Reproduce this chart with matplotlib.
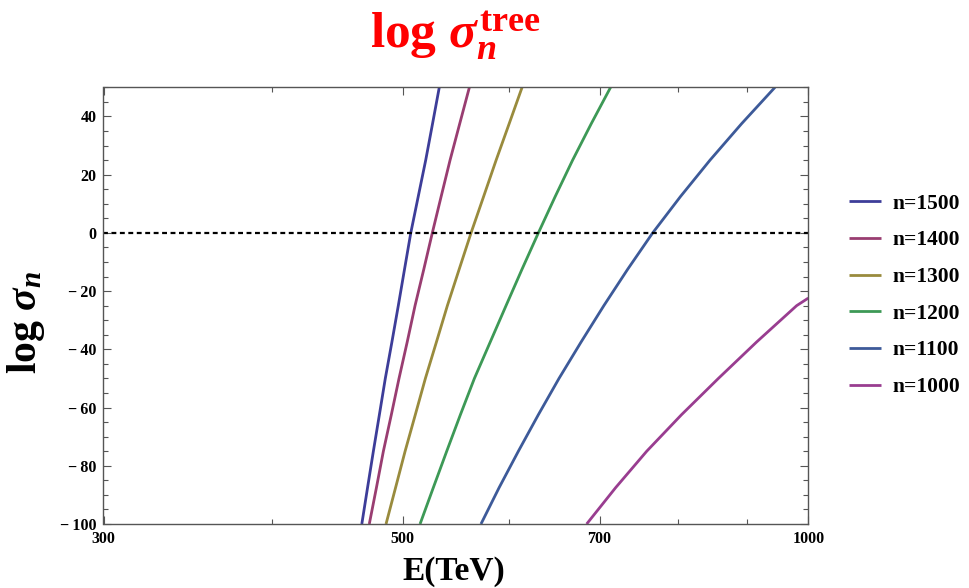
import matplotlib
matplotlib.use("Agg")
import matplotlib.pyplot as plt
from matplotlib.ticker import FixedLocator, FixedFormatter, MultipleLocator

plt.rcParams.update({
    'font.family': ['Liberation Serif', 'DejaVu Serif'],
    'font.weight': 'bold',
    'mathtext.fontset': 'custom',
    'mathtext.rm': 'Liberation Serif:bold',
    'mathtext.it': 'Liberation Serif:italic:bold',
    'mathtext.bf': 'Liberation Serif:bold',
})

# ---- data (E in TeV at given log sigma_n levels) ----
labels = ['n=1500', 'n=1400', 'n=1300', 'n=1200', 'n=1100', 'n=1000']
levels = [-100, -87.5, -75, -62.5, -50, -37.5, -25, -12.5, 0, 12.5, 25, 37.5, 50]
E_1500 = [466.4, 471.0, 475.7, 480.6, 485.5, 491.0, 496.4, 501.7, 507.1, 513.6, 520.2, 526.3, 532.4]
E_1400 = [472.4, 478.2, 483.9, 490.5, 497.0, 504.0, 510.8, 518.5, 526.1, 534.1, 542.3, 551.3, 560.5]
E_1300 = [486.1, 494.1, 502.2, 511.0, 519.9, 529.8, 539.8, 550.8, 562.1, 574.3, 586.7, 599.9, 613.3]
E_1200 = [515.2, 527.0, 539.2, 551.9, 565.3, 580.8, 596.7, 613.2, 630.6, 649.0, 668.6, 690.2, 713.4]
E_1100 = [571.7, 589.7, 609.4, 630.5, 653.2, 678.3, 705.2, 734.5, 766.6, 803.9, 845.5, 892.3, 944.7]
levels_1000 = [-100, -87.5, -75, -62.5, -50, -37.5, -25, -22.4]
E_1000 = [684.8, 719.6, 758.8, 805.1, 857.6, 915.4, 980.3, 1000.0]

series = [
    (E_1500, levels), (E_1400, levels), (E_1300, levels),
    (E_1200, levels), (E_1100, levels), (E_1000, levels_1000),
]
colors = ['#3d3d99', '#993d71', '#998b3d', '#3d9956', '#3d5a99', '#993d90']

x_major = [300, 500, 700, 1000]
x_major_labels = ['300', '500', '700', '1000']
x_minor = [400, 600, 800, 900]
y_major = [-100, -80, -60, -40, -20, 0, 20, 40]
y_major_labels = ['\u2212\u2009100', '\u2212\u200980', '\u2212\u200960', '\u2212\u200940',
                  '\u2212\u200920', '0', '20', '40']

fig = plt.figure(figsize=(9.7, 5.88), dpi=100)
L, R, T, B = 103.5, 808.3, 87.3, 524.0
ax = fig.add_axes([L/970, 1-B/588, (R-L)/970, (B-T)/588])

for (ex, ey), c, lab in zip(series, colors, labels):
    ax.plot(ex, ey, color=c, lw=2.0, label=lab, solid_capstyle='butt')

ax.axhline(0, color='black', lw=1.6, ls=(0, (2.2, 1.6)))

ax.set_xscale('log')
ax.set_xlim(300, 1000)
ax.set_ylim(-100, 50)

ax.xaxis.set_major_locator(FixedLocator(x_major))
ax.xaxis.set_major_formatter(FixedFormatter(x_major_labels))
ax.xaxis.set_minor_locator(FixedLocator(x_minor))
ax.xaxis.set_minor_formatter(FixedFormatter([''] * len(x_minor)))
ax.yaxis.set_major_locator(FixedLocator(y_major))
ax.yaxis.set_major_formatter(FixedFormatter(y_major_labels))
ax.yaxis.set_minor_locator(MultipleLocator(5))

for sp in ax.spines.values():
    sp.set_color('#555555')
    sp.set_linewidth(1.0)

ax.tick_params(which='both', direction='in', top=True, right=True,
               color='#555555', labelsize=11.5, width=0.8)
ax.tick_params(which='major', length=6, pad=5)
ax.tick_params(which='minor', length=3.5)
for t in ax.get_xticklabels() + ax.get_yticklabels():
    t.set_fontweight('bold')

fig.text(454/970, 1-580/588, 'E(TeV)', fontsize=24, fontweight='bold',
         ha='center', va='baseline')
fig.text(26/970, 1-322/588, r'$\mathrm{log}\ \sigma_n$', fontsize=30,
         rotation=90, ha='center', va='center')

fig.text(455/970, 1-48/588, r'$\mathrm{log}\ \sigma_n^{\mathrm{tree}}$',
         color='#ff0000', fontsize=37, ha='center', va='baseline')

fig.legend(loc='upper left', bbox_to_anchor=(838/970, 1-183/588),
           frameon=False, handlelength=1.5, handletextpad=0.55,
           labelspacing=0.77, borderpad=0, prop={'weight': 'bold', 'size': 15.5})

fig.savefig('out.png', dpi=100)
